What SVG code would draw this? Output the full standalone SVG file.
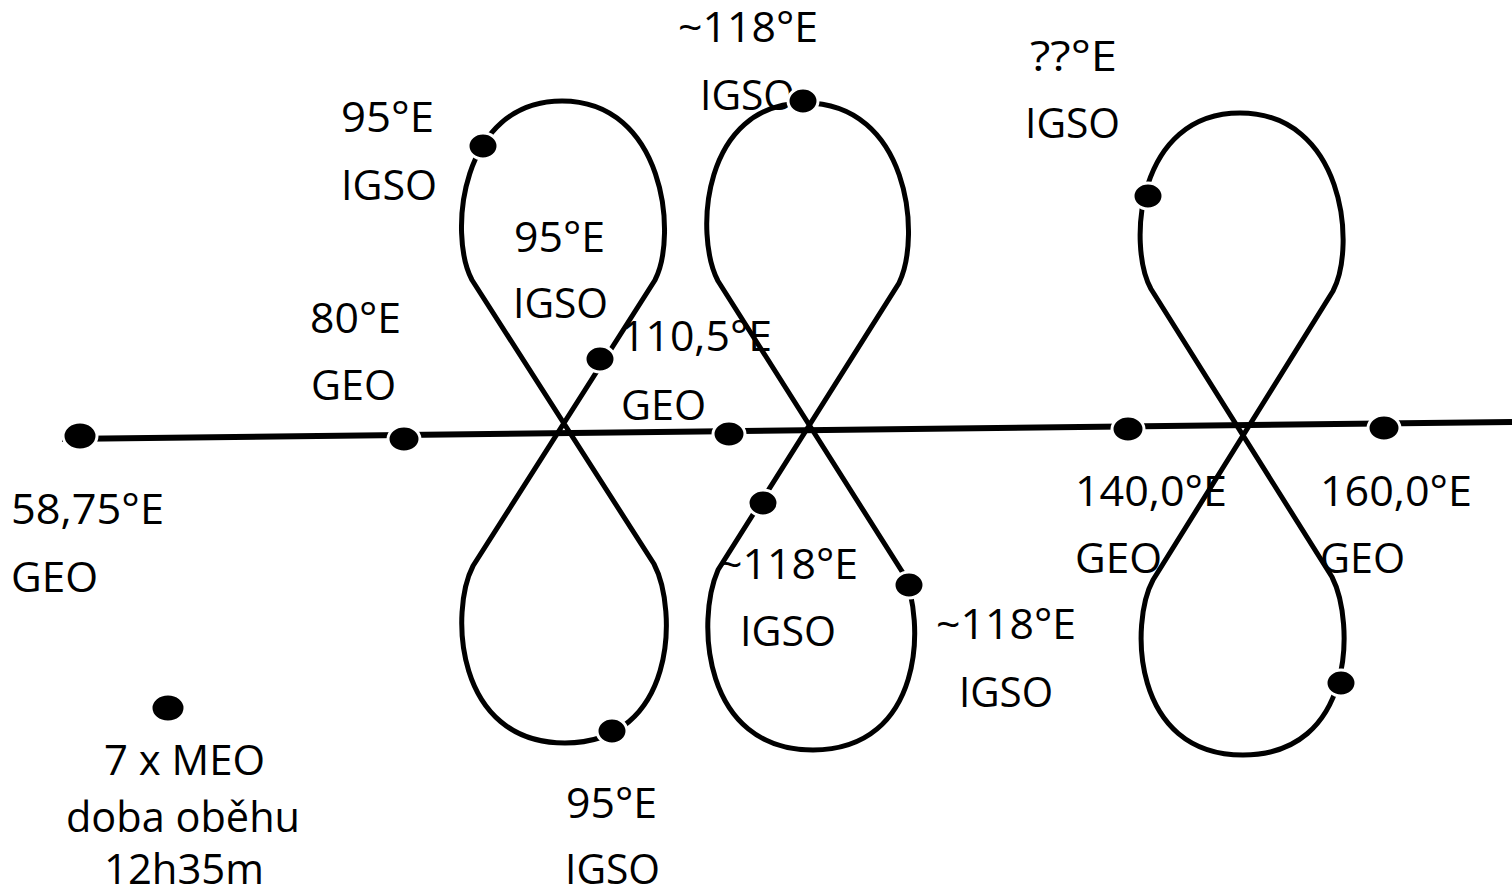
<svg xmlns="http://www.w3.org/2000/svg" width="1512" height="893" viewBox="0 0 1512 893">
  <style>
    .lbl { font-family: "Open Sans", "Liberation Sans", sans-serif; font-size: 42px; fill: #000; }
    .orbit { fill: none; stroke: #000; stroke-width: 5; stroke-linejoin: miter; }
    .equator { fill: none; stroke: #000; stroke-width: 6; }
    .sat { fill: #000; stroke: #fff; stroke-width: 3; }
  </style>
  <rect width="1512" height="893" fill="#fff"/>

  <!-- labels -->
  <g id="labels">
    <text class="lbl" x="678" y="42" textLength="140" lengthAdjust="spacingAndGlyphs">~118°E</text>
    <text class="lbl" x="700" y="110" textLength="95" lengthAdjust="spacingAndGlyphs">IGSO</text>
    <text class="lbl" x="1030" y="71" textLength="87" lengthAdjust="spacingAndGlyphs">??°E</text>
    <text class="lbl" x="1025" y="138" textLength="95" lengthAdjust="spacingAndGlyphs">IGSO</text>
    <text class="lbl" x="341" y="132" textLength="93" lengthAdjust="spacingAndGlyphs">95°E</text>
    <text class="lbl" x="341" y="200" textLength="96" lengthAdjust="spacingAndGlyphs">IGSO</text>
    <text class="lbl" x="514" y="252" textLength="91" lengthAdjust="spacingAndGlyphs">95°E</text>
    <text class="lbl" x="513" y="318" textLength="95" lengthAdjust="spacingAndGlyphs">IGSO</text>
    <text class="lbl" x="310" y="333" textLength="91" lengthAdjust="spacingAndGlyphs">80°E</text>
    <text class="lbl" x="311" y="400" textLength="85" lengthAdjust="spacingAndGlyphs">GEO</text>
    <text class="lbl" x="621" y="351" textLength="151" lengthAdjust="spacingAndGlyphs">110,5°E</text>
    <text class="lbl" x="621" y="420" textLength="85" lengthAdjust="spacingAndGlyphs">GEO</text>
    <text class="lbl" x="11" y="524" textLength="153" lengthAdjust="spacingAndGlyphs">58,75°E</text>
    <text class="lbl" x="11" y="592" textLength="87" lengthAdjust="spacingAndGlyphs">GEO</text>
    <text class="lbl" x="1075" y="506" textLength="152" lengthAdjust="spacingAndGlyphs">140,0°E</text>
    <text class="lbl" x="1075" y="573" textLength="87" lengthAdjust="spacingAndGlyphs">GEO</text>
    <text class="lbl" x="1320" y="506" textLength="152" lengthAdjust="spacingAndGlyphs">160,0°E</text>
    <text class="lbl" x="1320" y="573" textLength="85" lengthAdjust="spacingAndGlyphs">GEO</text>
    <text class="lbl" x="718" y="579" textLength="140" lengthAdjust="spacingAndGlyphs">~118°E</text>
    <text class="lbl" x="740" y="646" textLength="96" lengthAdjust="spacingAndGlyphs">IGSO</text>
    <text class="lbl" x="936" y="639" textLength="140" lengthAdjust="spacingAndGlyphs">~118°E</text>
    <text class="lbl" x="959" y="707" textLength="94" lengthAdjust="spacingAndGlyphs">IGSO</text>
    <text class="lbl" x="566" y="818" textLength="91" lengthAdjust="spacingAndGlyphs">95°E</text>
    <text class="lbl" x="565" y="884" textLength="95" lengthAdjust="spacingAndGlyphs">IGSO</text>
    <text class="lbl" x="104" y="775" textLength="161" lengthAdjust="spacingAndGlyphs">7 x MEO</text>
    <text class="lbl" x="66" y="832" textLength="234" lengthAdjust="spacingAndGlyphs">doba oběhu</text>
    <text class="lbl" x="104" y="884" textLength="160" lengthAdjust="spacingAndGlyphs">12h35m</text>
  </g>

  <!-- equator and ground tracks -->
  <g id="connectors">
    <path id="equator" class="equator" d="M62,439 L1512,422"/>
    <path id="track-95" class="orbit" d="M472,280 L654,564 C678,610 676,743 565,743 C454,743 450,610 473,566 L655,280 C678,235 664,101 562,101 C460,101 448,235 472,280 Z"/>
    <path id="track-118" class="orbit" d="M718,281 L903,573 C926,620 924,750 813,750 C702,750 696,620 718,570 L899,283 C922,235 908,103 805,103 C702,103 694,235 718,281 Z"/>
    <path id="track-unknown" class="orbit" d="M1151,289 L1332,577 C1355,622 1355,755 1243,755 C1131,755 1130,622 1153,580 L1333,291 C1357,245 1343,113 1240,113 C1137,113 1127,245 1151,289 Z"/>
  </g>

  <!-- satellites -->
  <g id="sat-geo-58"><ellipse class="sat" cx="80" cy="436" rx="17" ry="14"/></g>
  <g id="sat-geo-80"><ellipse class="sat" cx="404" cy="439" rx="16" ry="13"/></g>
  <g id="sat-geo-110"><ellipse class="sat" cx="729" cy="434" rx="16" ry="13"/></g>
  <g id="sat-geo-140"><ellipse class="sat" cx="1128" cy="429" rx="16" ry="13"/></g>
  <g id="sat-geo-160"><ellipse class="sat" cx="1384" cy="428" rx="16" ry="13"/></g>
  <g id="sat-igso-95-a"><ellipse class="sat" cx="483" cy="146" rx="15" ry="13"/></g>
  <g id="sat-igso-95-b"><ellipse class="sat" cx="600" cy="359" rx="15" ry="13"/></g>
  <g id="sat-igso-95-c"><ellipse class="sat" cx="612" cy="731" rx="15" ry="13"/></g>
  <g id="sat-igso-118-a"><ellipse class="sat" cx="803" cy="101" rx="15" ry="13"/></g>
  <g id="sat-igso-118-b"><ellipse class="sat" cx="763" cy="503" rx="15" ry="13"/></g>
  <g id="sat-igso-118-c"><ellipse class="sat" cx="909" cy="585" rx="15" ry="13"/></g>
  <g id="sat-igso-x-a"><ellipse class="sat" cx="1148" cy="196" rx="15" ry="13"/></g>
  <g id="sat-igso-x-b"><ellipse class="sat" cx="1341" cy="683" rx="15" ry="13"/></g>
  <g id="sat-meo"><ellipse class="sat" cx="168" cy="708" rx="17" ry="14"/></g>
</svg>
